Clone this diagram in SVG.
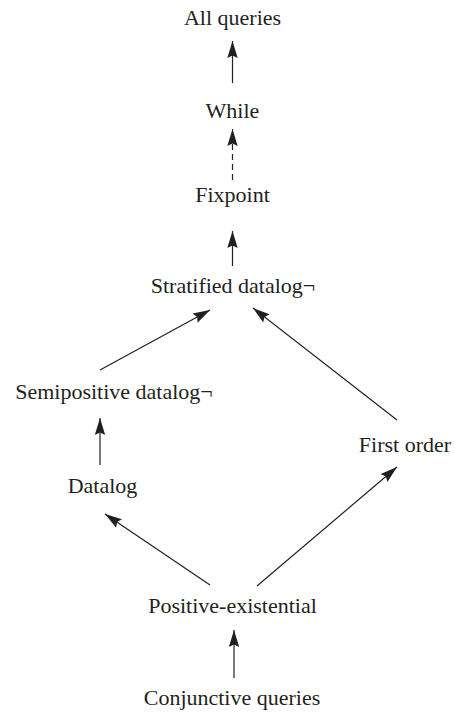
<svg xmlns="http://www.w3.org/2000/svg" width="455" height="715" viewBox="0 0 455 715">
<style>
.lbl{font-family:"Liberation Serif","Times New Roman",serif;font-size:22px;fill:#231f20;text-anchor:middle}
.edge{stroke:#231f20;stroke-width:1.2;fill:none}
.dash{stroke-dasharray:6 4}
</style>
<defs>
<marker id="ah" markerUnits="userSpaceOnUse" viewBox="-18 -6 19 12" refX="0" refY="0" markerWidth="19" markerHeight="12" orient="auto">
<path d="M0,0 L-17,-5.2 L-14.5,0 L-17,5.2 Z" fill="#231f20"/>
</marker>
</defs>
<rect width="455" height="715" fill="#ffffff"/>
<g id="connectors">
<line class="edge" x1="232.5" y1="83" x2="232.5" y2="41" marker-end="url(#ah)"/>
<line class="edge dash" x1="232.5" y1="180" x2="232.5" y2="129" marker-end="url(#ah)"/>
<line class="edge" x1="232.5" y1="266" x2="232.5" y2="231" marker-end="url(#ah)"/>
<line class="edge" x1="100" y1="370" x2="210" y2="310" marker-end="url(#ah)"/>
<line class="edge" x1="397" y1="420" x2="253" y2="308" marker-end="url(#ah)"/>
<line class="edge" x1="100" y1="465" x2="100" y2="418" marker-end="url(#ah)"/>
<line class="edge" x1="210" y1="585" x2="105" y2="514" marker-end="url(#ah)"/>
<line class="edge" x1="257" y1="586" x2="397" y2="467" marker-end="url(#ah)"/>
<line class="edge" x1="234" y1="678" x2="234" y2="630" marker-end="url(#ah)"/>
</g>
<g id="all-queries"><text class="lbl" x="232.5" y="25">All queries</text></g>
<g id="while"><text class="lbl" x="232.5" y="118">While</text></g>
<g id="fixpoint"><text class="lbl" x="232.5" y="202">Fixpoint</text></g>
<g id="stratified"><text class="lbl" x="233" y="293">Stratified datalog¬</text></g>
<g id="semipositive"><text class="lbl" x="114" y="398.5">Semipositive datalog¬</text></g>
<g id="first-order"><text class="lbl" x="405" y="452">First order</text></g>
<g id="datalog"><text class="lbl" x="102.5" y="493">Datalog</text></g>
<g id="positive-existential"><text class="lbl" x="232.5" y="613">Positive-existential</text></g>
<g id="conjunctive"><text class="lbl" x="232" y="705">Conjunctive queries</text></g>
</svg>
